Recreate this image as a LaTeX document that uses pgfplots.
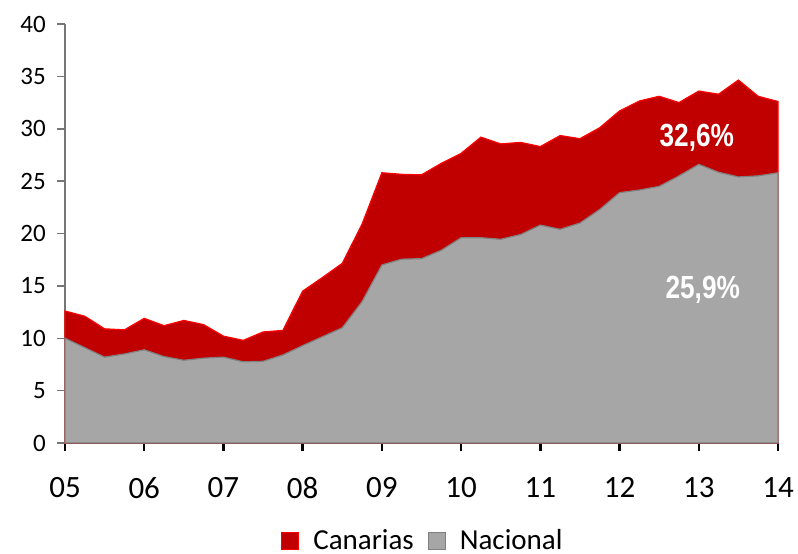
\documentclass[border=0pt]{standalone}
\usepackage{pgfplots}
\pgfplotsset{compat=1.18}
\usepackage{graphicx}
\usepackage{fontspec}
\setmainfont{Carlito}
\newfontfamily\lab{Liberation Sans}
\definecolor{redfill}{HTML}{C00000}
\definecolor{rededge}{HTML}{FF0000}
\definecolor{grayfill}{HTML}{A6A6A6}
\definecolor{grayedge}{HTML}{808080}
\definecolor{axgray}{HTML}{767676}
\begin{document}
\begin{tikzpicture}
\begin{axis}[
  scale only axis,
  width=713pt, height=419pt,
  xmin=0, xmax=36, ymin=0, ymax=40,
  axis x line=bottom, axis y line=left,
  axis line style={-},
  x axis line style={black, line width=2.5pt},
  y axis line style={axgray, line width=1.5pt},
  xtick={0,4,...,36},
  xticklabels={05,06,07,08,09,10,11,12,13,14},
  ytick={0,5,...,40},
  tick align=outside,
  major tick length=8pt,
  xtick style={black, line width=2.5pt},
  ytick style={axgray, line width=1.5pt},
  /pgf/number format/assume math mode=true,
  yticklabel style={font=\fontsize{25}{30}\selectfont, anchor=east, inner sep=0pt, xshift=-11pt},
  xticklabel style={font=\fontsize{31}{36}\selectfont, anchor=north, inner sep=0pt, yshift=-26pt},
  legend style={at={(0.502,-0.232)}, anchor=center, draw=none, fill=none,
    font=\fontsize{29}{34}\selectfont, column sep=12pt, inner sep=0pt},
  legend columns=2,
  legend image code/.code={\draw[#1, line width=1pt] (0pt,-9pt) rectangle (17pt,8pt);},
  clip=false,
]
\addplot[fill=redfill, draw=rededge, line width=1.2pt] table {
x y
0 12.6
1 12.1
2 10.9
3 10.8
4 11.9
5 11.2
6 11.7
7 11.3
8 10.2
9 9.8
10 10.6
11 10.75
12 14.5
13 15.8
14 17.15
15 20.9
16 25.8
17 25.65
18 25.6
19 26.7
20 27.65
21 29.2
22 28.55
23 28.7
24 28.3
25 29.35
26 29.05
27 30.1
28 31.7
29 32.65
30 33.1
31 32.5
32 33.6
33 33.3
34 34.65
35 33.1
36 32.6
} \closedcycle;
\addlegendentry{Canarias}
\addplot[fill=grayfill, draw=grayedge, line width=1.2pt] table {
x y
0 10.0
1 9.1
2 8.2
3 8.5
4 8.9
5 8.25
6 7.9
7 8.1
8 8.2
9 7.75
10 7.8
11 8.4
12 9.3
13 10.15
14 11.0
15 13.5
16 17.0
17 17.55
18 17.6
19 18.4
20 19.6
21 19.6
22 19.45
23 19.9
24 20.8
25 20.4
26 21.0
27 22.3
28 23.9
29 24.15
30 24.5
31 25.5
32 26.6
33 25.85
34 25.4
35 25.5
36 25.8
} \closedcycle;
\addlegendentry{Nacional}
\node[text=white, font=\lab\bfseries\fontsize{32}{36}\selectfont] at (axis cs:31.9,29.1) {\scalebox{0.82}[1]{32,6\%}};
\node[text=white, font=\lab\bfseries\fontsize{32}{36}\selectfont] at (axis cs:32.2,14.6) {\scalebox{0.82}[1]{25,9\%}};
\coordinate (O) at (rel axis cs:0,0);
\end{axis}
\path (O) ++(-65pt,-111pt) rectangle ++(798pt,554pt);
\end{tikzpicture}
\end{document}
